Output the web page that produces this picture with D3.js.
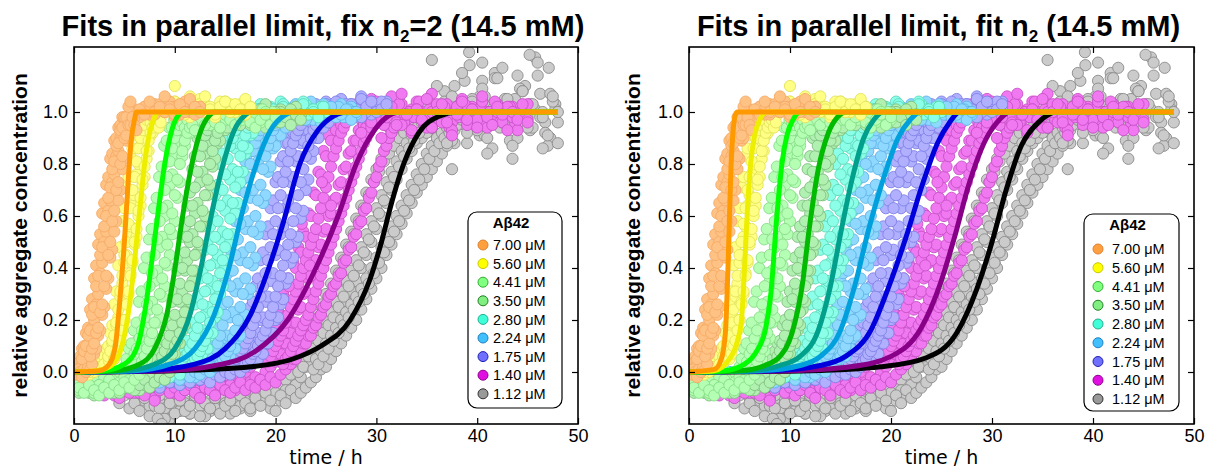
<!DOCTYPE html>
<html><head><meta charset="utf-8">
<script src="https://cdn.jsdelivr.net/npm/d3@7/dist/d3.min.js"></script>
<style>body{margin:0;background:#fff}</style>
</head><body><svg id="c" width="1210" height="469"></svg>
<script>
// ---------- categories / labels ----------
const concentrations = ["7.00 μM","5.60 μM","4.41 μM","3.50 μM","2.80 μM","2.24 μM","1.75 μM","1.40 μM","1.12 μM"];
const xTicks = [0,10,20,30,40,50];
const yTicks = [0.0,0.2,0.4,0.6,0.8,1.0];
const legendTitle = "Aβ42";
const xLabel = "time / h";
const yLabel = "relative aggregate concentration";

// ---------- measured data: replicate = segments [tStart(h), step(h), values(x100)] ----------
const series700 = [
 [[0,0.2,[2,4,3,6,9,10,15,17,24,28,36,41,49,53,61,65,72,75,82,84,89,90,94,95,98,97]],[5.5,0.5,[99,101,100,102,99,103,101,100,104,102,99,101,103,100,102]]],
 [[0,0.2,[1,0,2,4,3,6,7,10,12,17,20,26,30,38,42,50,54,62,66,73,76,83,85,90,91,95,95,98,97]],[6,0.5,[100,98,102,101,99,103,100,102,98,101,104,100,99,102]]],
 [[0,0.2,[0,-1,1,0,-2,1,0,2,1,3,7,9,14,16,22,25,32,36,44,47,54,58,66,70,78,82,89,90,95,95,98]],[6.5,0.5,[101,99,104,100,102,106,101,99,103,100,105,102,100]]],
 [[0.8,0.2,[5,8,10,14,16,22,25,33,37,45,48,56,60,67,71,78,81,87,88,93,94,98,98,102,104]]],
 [[1.6,0.2,[6,9,11,15,17,23,26,33,37,45,50,58,62,70,73,80,83,90,91,95,95,98,95,93]]]
];
const series560 = [
 [[0,0.5,[1,0,2,-1,1,3]],[3,0.2,[6,9,10,15,18,26,31,41,48,58,63,71,75,83,86,91,92,96,96,99,98]],[7.5,0.5,[100,102,99,103,101,104,100,102,98,101,105,103,100,99,102,104,101,100,103,99,102]]],
 [[0,0.5,[0,2,-1,1,0,2,3]],[3.4,0.2,[6,7,11,12,18,21,29,34,42,45,52,56,64,68,76,80,87,89,94,94,98,97,100]],[8.5,0.5,[101,103,100,104,102,99,106,101,103,100,102,98,104,101,103,100,102,105,101]]],
 [[0,0.5,[2,1,3,0,2,1,3,4]],[4,0.2,[7,8,11,12,18,20,27,30,38,42,49,52,60,64,72,75,82,85,91,92,96,96,99,98]],[9,0.5,[100,102,110,103,101,104,100,103,106,101,99,102,104,100,103,101,99,102]]],
 [[3.4,0.2,[6,8,12,14,19,24,31,37,45,50,57,63,70,75,81,86,90,93,95,97,98,96,94]]],
 [[4,0.2,[5,7,10,12,16,20,26,31,37,43,50,55,62,67,74,79,85,89,92,94,96,97,94,96]]]
];
const series441 = [
 [[0,0.5,[-3,-5,-4,-6,-3,-5,-2,-4,-1,0,2]],[5.2,0.25,[5,9,11,16,19,27,31,40,44,51,55,63,67,75,79,87,89,94,94,97,96]],[10.7,0.5,[98,96,99,97,101,98,96,100,97,99,102,98,97,100,99,96,101,98,100]]],
 [[0,0.5,[-5,-7,-4,-6,-8,-5,-6,-3,-5,-4,-2,-3,0]],[6.25,0.25,[3,7,10,15,17,24,27,35,39,48,52,60,64,72,76,84,88,93,93,96,95,98]],[12,0.5,[96,99,97,95,98,100,97,99,96,98,101,97,99,96,100,98,97]]],
 [[0,0.5,[-4,-6,-8,-5,-7,-9,-6,-8,-5,-7,-4,-6,-3,-1,1]],[7.25,0.25,[5,8,12,13,19,21,29,33,41,45,53,58,67,73,83,87,92,92,95,94]],[12.5,0.5,[97,95,98,96,94,99,97,95,98,100,96,94,97,99,95,98]]],
 [[5.75,0.25,[4,7,9,13,16,21,26,33,38,45,51,58,63,70,75,81,86,90,93,95,96,94,97]]],
 [[6.75,0.25,[4,6,9,12,15,19,24,30,36,42,49,55,61,68,74,80,85,89,92,94,95,93]]]
];
const series350 = [
 [[0,0.5,[-2,-4,-3,-5,-6,-4,-7,-5,-3,-6,-4,-2,-5,-3,-1,1,3]],[8.25,0.25,[5,8,11,12,18,20,27,31,39,44,52,56,64,69,78,83,90,91,95,94,97,96]],[14,0.5,[98,96,99,101,97,99,102,98,96,100,103,99,97,101,98,100,102,99]]],
 [[0,0.5,[-5,-3,-6,-8,-5,-7,-4,-6,-8,-5,-3,-6,-4,-7,-5,-2,-4,0]],[8.75,0.25,[2,6,8,11,12,18,20,27,31,39,43,50,53,61,65,73,77,84,87,92,92,96,95,98]],[15,0.5,[96,99,97,100,98,95,99,101,97,99,96,100,98,101,97,99]]],
 [[0,0.5,[-6,-8,-5,-7,-9,-6,-4,-7,-5,-8,-6,-4,-7,-5,-3,-6,-4,-2,-3,0]],[9.75,0.25,[4,7,11,11,16,18,24,27,35,39,46,49,56,60,68,72,79,82,88,89,93,93,96,95]],[16,0.5,[97,95,98,96,99,97,94,98,100,96,98,95,99,97]]],
 [[8.5,0.25,[3,6,8,11,14,18,22,28,34,40,46,52,58,64,71,77,83,87,91,93,95,96,94,97]]],
 [[9.25,0.25,[3,5,7,10,12,15,19,23,28,33,39,45,50,56,62,68,74,80,85,89,92,94,95,96,94]]]
];
const series280 = [
 [[0,0.5,[0,-2,1,-1,-3,0,-2,1,-1,0,-3,-1,1,-2,0,-1,2,0,1,3,5]],[10.25,0.25,[6,8,8,11,12,17,19,26,29,36,39,47,49,56,60,68,72,80,84,90,91,95,95,98,97,99]],[17,0.5,[100,98,101,103,99,102,100,104,101,99,102,100,103,101,99,102,100]]],
 [[0,0.5,[-1,-3,0,-2,-4,-1,-3,0,-2,-1,-4,-2,0,-3,-1,-2,1,-1,0,-2,1,2,4]],[11.25,0.25,[5,7,7,10,10,15,16,22,25,32,35,42,45,51,54,62,66,74,78,86,88,93,93,97,96,99,98]],[18.25,0.5,[101,99,102,100,98,103,101,99,102,104,100,101,99,102]]],
 [[0,0.5,[-2,0,-3,-1,-2,0,-4,-2,-1,-3,0,-2,-1,-3,-1,0,-2,1,-1,0,1,-1,2,3,5]],[12.25,0.25,[5,7,7,10,9,14,15,21,23,30,33,40,43,50,53,61,65,73,77,84,86,91,92,96,95,98,97]],[19.25,0.5,[99,101,98,102,100,97,101,103,99,100,98,102]]],
 [[10.75,0.25,[4,6,7,9,11,14,17,21,26,31,36,41,47,52,58,64,70,76,82,87,90,93,95,97,98,100]]],
 [[11.75,0.25,[3,5,6,8,10,12,15,19,23,28,33,38,43,48,53,59,65,71,77,83,87,91,94,96,97,99,101]]]
];
const series224 = [
 [[0,0.5,[-1,-3,0,-2,-4,-1,-3,-2,0,-3,-1,-2,-4,-1,-3,0,-2,-1,-3,0,-1,1,0,2,3,5]],[12.75,0.25,[6,8,7,10,10,16,17,24,26,35,38,47,50,58,62,70,74,81,84,90,90,94,94,97,96,99]],[19.5,0.5,[99,101,98,102,100,103,99,101,104,100,98,102,101,99,103,100,102,99]]],
 [[0,0.5,[-2,0,-3,-1,-2,-4,-1,-3,0,-2,-1,-3,-2,0,-3,-1,-2,-4,-1,-2,0,-3,-1,0,-2,1,2,4]],[13.75,0.25,[5,7,6,9,9,13,14,21,23,31,34,43,46,55,58,67,70,79,81,88,88,92,92,96,95,98,97]],[20.75,0.5,[100,98,101,99,102,100,97,101,103,99,100,102,98,101,100]]],
 [[0,0.5,[-3,-1,-2,-4,-1,-3,-2,0,-3,-1,-4,-2,-1,-3,0,-2,-4,-1,-3,-2,0,-3,-1,-2,0,-1,1,0,2,3]],[15,0.25,[5,7,6,10,9,13,14,21,22,30,32,41,44,53,56,65,68,77,79,86,87,91,91,95,94,97,96]],[22,0.5,[98,100,97,101,99,96,100,102,98,99,101,97,100]]],
 [[13.25,0.25,[4,6,7,9,11,14,18,22,27,33,39,45,51,57,63,69,75,80,85,88,91,93,95,97,98,100]]],
 [[14.5,0.25,[3,5,6,8,10,13,16,20,25,30,36,42,48,54,60,66,72,78,83,87,90,93,95,97,98,99]]]
];
const series175 = [
 [[0,0.5,[-2,-4,-3,-5,-2,-4,-6,-3,-5,-2,-4,-3,-5,-1,-3,-4,-2,-5,-3,-1,-4,-2,-3,0,-2,-1,1,0,2,4,5]],[15.25,0.25,[6,8,7,10,9,13,13,18,19,25,27,33,36,43,46,53,56,63,66,73,75,81,83,88,88,92,92,96,95,98,97,100]],[23.5,0.5,[101,103,100,104,102,99,105,101,103,100,106,102,99,103,101,104]]],
 [[0,0.5,[-3,-5,-2,-4,-6,-3,-5,-4,-2,-5,-3,-6,-4,-2,-5,-3,-4,-6,-2,-4,-3,-5,-1,-4,-2,-3,0,-2,-1,1,0,2,3]],[16.25,0.25,[4,6,5,8,7,11,10,14,15,20,21,27,29,35,38,45,47,53,56,63,66,73,75,81,83,88,89,93,93,96,95,98,97,100]],[25,0.5,[102,100,104,101,103,99,102,105,100,103,101,104,102]]],
 [[0,0.5,[-4,-2,-5,-3,-6,-4,-2,-5,-3,-4,-6,-3,-5,-2,-4,-3,-5,-6,-3,-4,-2,-5,-3,-4,-1,-3,-2,-4,-1,-2,0,-1,1,0,2,3]],[17.75,0.25,[4,6,5,8,7,11,11,15,15,20,21,26,28,34,36,42,44,50,52,59,62,70,74,82,85,90,90,94,94,97,96,99]],[26,0.5,[100,102,99,103,101,98,102,104,100,101,103]]],
 [[15.75,0.25,[4,5,6,8,9,11,13,15,18,21,25,29,33,38,43,48,53,58,63,68,73,77,81,85,88,91,93,95,97,98,100,103]]],
 [[17,0.25,[3,4,5,7,8,10,12,14,16,19,22,25,29,33,37,41,45,49,53,58,63,68,73,78,83,87,90,93,95,97,99,101,103]]]
];
const series140 = [
 [[0,0.5,[-3,-5,-2,-4,-6,-3,-5,-7,-4,-6,-3,-5,-8,-4,-6,-3,-7,-5,-4,-6,-8,-5,-3,-6,-4,-7,-5,-3,-6,-4,-2,-5,-3,-1,0,2,4]],[18.5,0.25,[6,9,8,13,12,17,17,23,22,30,28,36,34,42,40,48,46,54,52,61,60,69,68,77,76,85,83,91,89,95,93,98,95,100,97]],[27.5,0.5,[99,103,97,101,105,98,102,100,106,99,103,97,101,104,100,98,107,102,99,103,96,101,105,99,102,98,104,100,97,103,101,99,102,98,100,103]]],
 [[0,0.5,[-5,-7,-4,-6,-8,-5,-3,-6,-9,-5,-7,-4,-6,-8,-5,-7,-10,-6,-4,-7,-5,-8,-6,-4,-7,-9,-5,-6,-8,-4,-6,-5,-7,-3,-5,-4,-2,-3,0,2]],[20,0.25,[4,7,7,11,11,15,15,19,19,24,25,30,31,36,37,42,43,48,49,54,55,60,61,66,67,72,73,78,79,84,85,89,89,93,92,95,94,97,96,99]],[30.25,0.5,[97,101,94,99,103,96,100,98,104,95,101,99,97,102,94,100,98,103,96,99,101,95,100,104,97,99,102,96,100,98]]],
 [[0,0.5,[-6,-4,-7,-5,-8,-6,-9,-5,-7,-10,-6,-8,-5,-7,-9,-6,-11,-7,-5,-8,-6,-9,-7,-5,-8,-10,-6,-7,-9,-5,-7,-8,-6,-4,-7,-5,-6,-3,-5,-2,-4,-1,1]],[21.5,0.25,[3,5,5,8,8,11,11,14,14,17,18,21,22,25,26,29,30,33,34,37,38,42,43,47,48,52,53,57,58,62,63,67,69,73,75,79,81,85,87,90,92,94,96]],[32.5,0.5,[95,99,92,101,97,94,100,103,96,98,93,102,99,95,101,97,104,94,99,100,96,102,98,93,100,97]]],
 [[19.25,0.25,[4,6,8,10,12,14,16,19,22,25,28,31,34,37,40,43,46,49,52,55,59,63,67,71,75,79,83,86,89,92,94,96,98,100,102]]],
 [[20.75,0.25,[3,5,6,8,10,12,14,16,18,20,22,25,28,31,34,37,40,43,46,49,52,55,58,61,64,67,70,73,76,79,82,85,88,90,92,94,96,98,100,97,95]]],
 [[28.5,0.5,[92,100,96,104,90,98,102,95,107,99,93,101,97,105,94,100,103,96,91,99,104,97,101,94,106,98,95,102,99,93,100,97,103,96]]]
];
const series112 = [
 [[4,0.5,[-8,-12,-9,-14,-10,-7,-11,-13,-9,-12,-8,-10,-14,-9,-11,-16,-10,-8,-12,-15,-9,-11,-13,-8,-10,-14,-9,-12,-7,-10,-8,-6,-9,-5,-3]],[21.5,0.25,[-1,3,8,6,12,10,15,13,18,17,22,20,26,25,30,29,34,33,39,38,44,43,49,48,54,53,59,58,64,63,69,68,74,73,78,77,82,81,86,84,89,87,92,90,94,92,96,94,98,96]],[34.25,0.5,[99,95,104,92,101,108,97,88,103,112,96,100,91,106,99,115,94,102,89,105,98,110,93,101,107,96,90,103]]],
 [[6,0.5,[-12,-15,-10,-17,-13,-9,-14,-18,-11,-15,-12,-16,-10,-13,-17,-11,-14,-9,-12,-16,-10,-13,-11,-15,-9,-12,-10,-14,-8,-11,-7,-9,-5,-2]],[23,0.25,[2,6,4,9,7,12,10,15,13,18,16,21,19,25,23,29,27,33,31,37,35,41,40,46,45,51,50,56,55,61,60,66,65,71,70,75,74,79,78,83,82,86,85,89,88,91,90,93,92,95,94,96]],[36.25,0.5,[98,104,93,110,101,95,118,99,106,91,102,113,97,105,94,100,109,96,103,121,98,92,107,101]]],
 [[8,0.5,[-10,-14,-18,-12,-16,-11,-15,-13,-9,-17,-12,-14,-10,-16,-13,-11,-15,-9,-12,-14,-10,-13,-8,-11,-15,-9,-12,-7,-10,-8,-6,-4,-2]],[24.5,0.25,[1,4,2,7,5,10,8,13,11,16,14,19,17,22,20,26,24,30,28,34,32,38,36,42,40,47,45,51,49,55,53,59,57,63,61,67,65,71,69,74,72,77,75,80,78,83,81,86,84,89,87,91,89,93,95]],[38.5,0.5,[97,88,105,93,112,99,86,103,117,95,101,90,108,98,94,114,100,87,104,96]]],
 [[22.25,0.25,[0,4,2,8,6,11,9,14,12,17,15,20,18,23,21,27,25,31,29,35,33,39,37,43,41,48,46,53,51,58,56,63,61,68,66,73,71,77,75,81,79,85,83,88,86,91,89,94,92,96]]],
 [[23.75,0.25,[1,5,3,8,6,11,9,14,12,17,15,20,18,23,21,26,24,29,27,32,30,36,34,40,38,44,42,48,46,52,50,56,54,60,58,64,62,68,66,72,70,76,74,80,78,84,82,87,85,90,88,92,90,94,92]]],
 [[35,0.5,[102,94,110,97,88,106,99,115,92,104,97,109,90,101,113,96,105,87,100,108,94,103,119,98,91,106,100]]]
];
// isolated points [t(h), value x100]
const outliers112 = [[6.5,13],[6.9,8],[7.4,15],[8.3,-18],[8.7,-20],[35.5,120],[39.2,123],[40.5,119],[44.0,114],[45.2,122],[47.1,117],[46.5,86],[43.5,82],[41,84],[37.5,78],[48,88]];
const outliers140 = [[20.2,24],[21.3,33],[22.6,57],[23.4,41],[24.6,73],[25.5,64]];

const allSeries = [series700,series560,series441,series350,series280,series224,series175,series140,series112];
const allOutliers = [[],[],[],[],[],[],[],outliers140,outliers112];

// ---------- fitted curves [t(h), value] ----------
const fitL700 = [[0,0],[2.5,0.005],[3.5,0.03],[4.1,0.1],[4.6,0.3],[5.0,0.5],[5.4,0.75],[5.7,0.9],[6.0,0.97],[6.2,1],[48,1]];
const fitL560 = [[0,0],[2,0.004],[3.5,0.02],[4.5,0.07],[5.2,0.18],[5.8,0.35],[6.2,0.5],[6.6,0.65],[7.0,0.8],[7.5,0.92],[8.0,0.98],[8.4,1],[48,1]];
const fitL441 = [[0,0],[3,0.005],[5,0.03],[6.3,0.1],[7.1,0.25],[7.8,0.45],[8.3,0.6],[9.0,0.8],[9.7,0.93],[10.3,0.985],[10.8,1],[48,1]];
const fitL350 = [[0,0],[4,0.005],[6.5,0.03],[8,0.09],[9.2,0.22],[10.1,0.42],[10.7,0.58],[11.7,0.8],[12.6,0.93],[13.4,0.985],[14.0,1],[48,1]];
const fitL280 = [[0,0],[5,0.005],[8,0.03],[10,0.09],[11.5,0.22],[12.7,0.42],[13.5,0.58],[14.8,0.8],[15.9,0.93],[16.9,0.985],[17.6,1],[48,1]];
const fitL224 = [[0,0],[6,0.005],[9.5,0.03],[12,0.09],[13.9,0.22],[15.5,0.42],[16.6,0.6],[18.1,0.8],[19.5,0.93],[20.8,0.985],[21.8,1],[48,1]];
const fitL175 = [[0,0],[7,0.005],[12,0.03],[15,0.09],[17.5,0.22],[19.5,0.42],[20.8,0.58],[22.4,0.8],[24.2,0.93],[25.8,0.985],[27.1,1],[48,1]];
const fitL140 = [[0,0],[9,0.005],[14,0.025],[18,0.08],[21.2,0.2],[24,0.4],[26.2,0.6],[28,0.8],[29.8,0.93],[31.2,0.985],[32.3,1],[48,1]];
const fitL112 = [[0,0],[10,0.005],[17.5,0.02],[21.7,0.05],[24.5,0.1],[27.4,0.2],[29.3,0.35],[30.5,0.5],[31.5,0.65],[32.7,0.8],[34.2,0.92],[36.3,0.985],[38,1],[48,1]];

const fitR700 = [[0,0],[2.5,0.01],[3.2,0.05],[3.6,0.15],[3.9,0.45],[4.15,0.78],[4.35,0.92],[4.6,0.99],[4.8,1],[48,1]];
const fitR560 = [[0,0],[2.5,0.005],[4.0,0.05],[4.8,0.12],[5.2,0.2],[5.5,0.4],[5.75,0.6],[6.1,0.8],[6.5,0.91],[7.0,0.97],[7.7,1],[48,1]];
const fitR441 = [[0,0],[3.5,0.005],[5.5,0.03],[6.7,0.08],[7.6,0.17],[8.1,0.3],[8.7,0.6],[9.2,0.8],[9.7,0.91],[10.3,0.97],[11,1],[48,1]];
const fitR350 = [[0,0],[5,0.005],[7.5,0.025],[9,0.06],[10.2,0.15],[11.2,0.33],[11.9,0.55],[12.8,0.78],[13.8,0.92],[14.7,0.98],[15.6,1],[48,1]];
const fitR280 = [[0,0],[6,0.005],[9,0.025],[11,0.06],[12.8,0.16],[14,0.33],[15.1,0.55],[16.2,0.75],[17.3,0.9],[18.3,0.97],[19.2,1],[48,1]];
const fitR224 = [[0,0],[7,0.005],[11,0.025],[13,0.06],[15,0.16],[16.4,0.33],[17.8,0.55],[19.3,0.75],[20.7,0.9],[21.9,0.97],[22.9,1],[48,1]];
const fitR175 = [[0,0],[8,0.005],[13,0.025],[15.5,0.06],[18,0.16],[19.8,0.33],[21.5,0.52],[23.1,0.72],[24.6,0.88],[25.8,0.96],[26.8,1],[48,1]];
const fitR140 = [[0,0],[10,0.005],[16,0.02],[20,0.06],[23,0.17],[24.8,0.33],[26.3,0.52],[27.7,0.72],[29.2,0.88],[30.5,0.96],[31.8,1],[48,1]];
const fitR112 = [[0,0],[12,0.005],[19,0.02],[23.5,0.055],[26.5,0.15],[28.5,0.32],[30,0.5],[31.4,0.7],[32.9,0.87],[34.6,0.96],[36.4,1],[48,1]];

const fitsLeft = [fitL700,fitL560,fitL441,fitL350,fitL280,fitL224,fitL175,fitL140,fitL112];
const fitsRight = [fitR700,fitR560,fitR441,fitR350,fitR280,fitR224,fitR175,fitR140,fitR112];

// ---------- styles ----------
const legendFill = ["#ffa040","#ffff00","#80ff80","#80ee80","#40ffd8","#40c0ff","#7070ff","#e010e0","#999999"];
const legendEdge = ["#e08030","#c8c800","#30b030","#208020","#20b090","#2080c0","#2020b0","#900090","#303030"];
const pointFill  = ["#ffc285","#ffff85","#b4ffb4","#b0f0b0","#8cffe8","#8fd8ff","#b0b0ff","#f078f0","#cbcbcb"];
const pointEdge  = ["#f5aa66","#e2e25a","#88dd88","#80c080","#5cd8bb","#62b4e6","#8080e6","#c850c8","#8a8a8a"];
const fitColors  = ["#ff9900","#eeee00","#00ff00","#00bb00","#00a08c","#00a0dd","#0000dd","#880088","#000000"];

const svg = d3.select("#c");
const yTop = 47, yBot = 424;
const y = d3.scaleLinear().domain([-0.2,1.25]).range([yBot,yTop]);

const panels = [
 {x0:74,x1:578,t1:"Fits in parallel limit, fix n",sub:"2",t2:"=2 (14.5 mM)",fits:fitsLeft,
  lg:{x:468,y:212,w:94,h:196,first:245,dy:18.6,mx:483,tx:493,ty:228},ylx:27},
 {x0:689,x1:1194,t1:"Fits in parallel limit, fit n",sub:"2",t2:" (14.5 mM)",fits:fitsRight,
  lg:{x:1084,y:214,w:95,h:197,first:249,dy:18.75,mx:1098,tx:1112,ty:230},ylx:640}
];

function expand(rep){
  const pts=[];
  rep.forEach(([t0,dt,vals])=>vals.forEach((v,i)=>pts.push([t0+i*dt, v/100])));
  return pts;
}

panels.forEach((p,pi)=>{
  const x = d3.scaleLinear().domain([0,50]).range([p.x0,p.x1]);
  const cid = "clip"+pi;
  svg.append("clipPath").attr("id",cid).append("rect")
    .attr("x",p.x0).attr("y",yTop).attr("width",p.x1-p.x0).attr("height",yBot-yTop);
  const g = svg.append("g").attr("clip-path",`url(#${cid})`);

  // scatter: 1.12 μM drawn first, 7.00 μM last (on top)
  for(let s=allSeries.length-1;s>=0;s--){
    const pts = [];
    allSeries[s].forEach(rep=>expand(rep).forEach(d=>pts.push(d)));
    allOutliers[s].forEach(([t,v])=>pts.push([t,v/100]));
    g.append("g").selectAll("circle").data(pts).join("circle")
      .attr("cx",d=>x(d[0])).attr("cy",d=>y(d[1])).attr("r",5.6)
      .attr("fill",pointFill[s]).attr("stroke",pointEdge[s]).attr("stroke-width",0.9);
  }
  // fits
  const line = d3.line().x(d=>x(d[0])).y(d=>y(d[1])).curve(d3.curveMonotoneX);
  for(let s=p.fits.length-1;s>=0;s--){
    g.append("path").attr("d",line(p.fits[s])).attr("fill","none")
      .attr("stroke",fitColors[s]).attr("stroke-width",5);
  }

  // axes (ticks inward on all four sides)
  const ax = svg.append("g").attr("font-family","DejaVu Sans, sans-serif");
  ax.append("g").attr("transform",`translate(0,${yBot})`)
    .call(d3.axisBottom(x).tickValues(xTicks).tickFormat(d3.format("d")).tickSizeInner(-6).tickSizeOuter(0).tickPadding(5));
  ax.append("g").attr("transform",`translate(${p.x0},0)`)
    .call(d3.axisLeft(y).tickValues(yTicks).tickFormat(d3.format(".1f")).tickSizeInner(-6).tickSizeOuter(0).tickPadding(6));
  ax.append("g").attr("transform",`translate(0,${yTop})`)
    .call(d3.axisTop(x).tickValues(xTicks).tickFormat("").tickSizeInner(-6).tickSizeOuter(0));
  ax.append("g").attr("transform",`translate(${p.x1},0)`)
    .call(d3.axisRight(y).tickValues(yTicks).tickFormat("").tickSizeInner(-6).tickSizeOuter(0));
  ax.selectAll(".domain").remove();
  ax.selectAll(".tick line").attr("stroke","#000").attr("stroke-width",1.2);
  ax.selectAll(".tick text").attr("font-size",18).attr("fill","#000");
  svg.append("rect").attr("x",p.x0).attr("y",yTop).attr("width",p.x1-p.x0).attr("height",yBot-yTop)
    .attr("fill","none").attr("stroke","#000").attr("stroke-width",1.6);

  // labels
  svg.append("text").attr("x",(p.x0+p.x1)/2).attr("y",464).attr("text-anchor","middle")
    .attr("font-family","DejaVu Sans, sans-serif").attr("font-size",19).text(xLabel);
  svg.append("text").attr("transform",`translate(${p.ylx},${(yTop+yBot)/2}) rotate(-90)`)
    .attr("text-anchor","middle").attr("font-family","Liberation Sans, Arial, sans-serif")
    .attr("font-weight","bold").attr("font-size",21).text(yLabel);
  const tt = svg.append("text").attr("x",(p.x0+p.x1)/2-3).attr("y",36).attr("text-anchor","middle")
    .attr("font-family","Liberation Sans, Arial, sans-serif").attr("font-weight","bold").attr("font-size",29);
  tt.append("tspan").text(p.t1);
  tt.append("tspan").attr("font-size",17).attr("dy",6).text(p.sub);
  tt.append("tspan").attr("dy",-6).text(p.t2);

  // legend
  const L = p.lg;
  const lg = svg.append("g");
  lg.append("rect").attr("x",L.x).attr("y",L.y).attr("width",L.w).attr("height",L.h)
    .attr("rx",9).attr("fill","#fff").attr("stroke","#000").attr("stroke-width",1.2);
  lg.append("text").attr("x",L.x+L.w/2-4).attr("y",L.ty).attr("text-anchor","middle")
    .attr("font-family","Liberation Sans, Arial, sans-serif").attr("font-weight","bold").attr("font-size",15).text(legendTitle);
  concentrations.forEach((c,i)=>{
    const cy = L.first + i*L.dy;
    lg.append("circle").attr("cx",L.mx).attr("cy",cy).attr("r",5)
      .attr("fill",legendFill[i]).attr("stroke",legendEdge[i]).attr("stroke-width",1);
    lg.append("text").attr("x",L.tx).attr("y",cy+5.2)
      .attr("font-family","Liberation Sans, Arial, sans-serif").attr("font-size",14.5).text(c);
  });
});
</script>
</body></html>
